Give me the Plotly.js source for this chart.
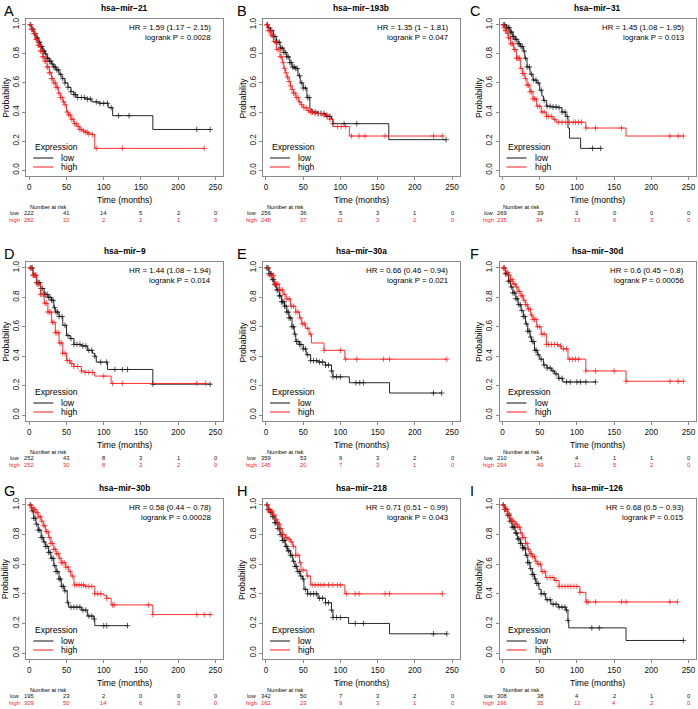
<!DOCTYPE html>
<html><head><meta charset="utf-8">
<script src="https://cdn.plot.ly/plotly-3.0.1.min.js"></script>
<style>html,body{margin:0;padding:0;background:#fff}#chart{width:698px;height:709px}</style>
</head><body><div id="chart"></div>
<script>
// ---------- DATA ----------
const panelLetters = ['A','B','C','D','E','F','G','H','I'];
const panelTitles = ['hsa−mir−21','hsa−mir−193b','hsa−mir−31','hsa−mir−9','hsa−mir−30a','hsa−mir−30d','hsa−mir−30b','hsa−mir−218','hsa−mir−126'];
const hrLabels = ['HR = 1.59 (1.17 − 2.15)','HR = 1.35 (1 − 1.81)','HR = 1.45 (1.08 − 1.95)','HR = 1.44 (1.08 − 1.94)','HR = 0.66 (0.46 − 0.94)','HR = 0.6 (0.45 − 0.8)','HR = 0.58 (0.44 − 0.78)','HR = 0.71 (0.51 − 0.99)','HR = 0.68 (0.5 − 0.93)'];
const pLabels = ['logrank P = 0.0028','logrank P = 0.047','logrank P = 0.013','logrank P = 0.014','logrank P = 0.021','logrank P = 0.00056','logrank P = 0.00028','logrank P = 0.043','logrank P = 0.015'];
const groupNames = ['low','high'];
const riskTimes = [0,50,100,150,200,250];
const xTickVals = [0,50,100,150,200,250];
const yTickVals = [0,0.2,0.4,0.6,0.8,1.0];

// Panel A
const A_low_t = [0,3,6,9,12,15,18,21,24,27,30,33,36,40,44,48,52,56,60,64,75,84,94,106,112,166,243];
const A_low_s = [1,0.97,0.94,0.91,0.88,0.85,0.82,0.80,0.77,0.75,0.73,0.71,0.69,0.66,0.63,0.60,0.57,0.54,0.52,0.50,0.49,0.47,0.46,0.43,0.375,0.28,0.28];
const A_low_c = [2,4,5,7,8,10,11,13,14,16,17,19,20,22,24,25,27,29,31,33,35,37,39,42,45,48,52,56,60,62,65,70,74,78,82,90,95,100,105,110,120,134,225,243];
const A_high_t = [0,3,6,9,12,15,18,21,24,27,30,33,36,39,42,45,48,50,53,56,60,64,68,72,76,80,84,88,235];
const A_high_s = [1,0.97,0.94,0.90,0.86,0.82,0.78,0.75,0.71,0.67,0.63,0.60,0.57,0.53,0.50,0.47,0.45,0.40,0.38,0.35,0.32,0.30,0.28,0.27,0.26,0.25,0.245,0.15,0.15];
const A_high_c = [1,3,4,6,7,9,10,12,13,15,16,18,19,21,22,24,25,27,28,30,31,33,35,36,38,40,42,44,46,48,51,53,55,57,59,61,63,66,68,70,73,76,78,80,85,90,125,235];
const A_risk_low = [222,41,14,5,2,0];
const A_risk_high = [282,32,2,1,1,0];

// Panel B
const B_low_t = [0,3,6,10,14,19,24,28,32,35,39,43,46,50,55,59,62,70,80,88,90,165,242];
const B_low_s = [1,0.98,0.96,0.92,0.88,0.84,0.81,0.78,0.74,0.71,0.70,0.65,0.60,0.565,0.50,0.42,0.40,0.39,0.37,0.355,0.32,0.21,0.21];
const B_low_c = [2,4,6,8,10,12,14,16,18,20,22,24,26,28,30,32,34,36,38,40,42,45,48,50,53,56,58,62,66,70,74,78,82,86,90,105,122,242];
const B_high_t = [0,3,6,10,14,19,22,24,26,28,31,33,35,37,40,44,47,50,55,59,66,75,85,90,112,237];
const B_high_s = [1,0.96,0.93,0.885,0.83,0.78,0.74,0.70,0.67,0.64,0.61,0.58,0.555,0.53,0.50,0.47,0.45,0.43,0.41,0.40,0.39,0.38,0.35,0.30,0.235,0.235];
const B_high_c = [1,3,5,7,9,11,13,15,17,19,21,23,25,27,29,31,33,35,37,39,41,43,45,48,51,54,57,60,63,66,70,74,78,82,86,96,101,107,115,125,133,160,225,237];
const B_risk_low = [256,36,5,3,1,0];
const B_risk_high = [248,37,11,3,2,0];

// Panel C
const C_low_t = [0,5,10,14,17,21,24,28,30,33,37,41,46,50,53,55,59,65,75,80,85,88,90,105,132];
const C_low_s = [1,0.98,0.95,0.92,0.90,0.87,0.85,0.82,0.77,0.71,0.66,0.62,0.60,0.55,0.51,0.48,0.44,0.435,0.43,0.40,0.37,0.29,0.22,0.15,0.15];
const C_low_c = [2,3,5,6,8,9,11,12,14,15,17,19,21,23,25,27,29,31,33,36,39,42,45,48,52,56,60,64,68,72,76,80,84,87,121,132];
const C_high_t = [0,2,4,6,8,11,15,19,24,27,30,33,37,41,46,52,59,68,72,112,166,243];
const C_high_s = [1,0.98,0.96,0.94,0.91,0.87,0.83,0.77,0.70,0.665,0.63,0.585,0.54,0.49,0.44,0.40,0.37,0.35,0.33,0.29,0.235,0.235];
const C_high_c = [1,2,4,5,7,8,10,11,13,14,16,17,19,20,22,23,25,27,29,31,33,35,37,39,41,43,45,47,50,53,56,59,62,66,70,75,80,85,90,95,98,102,106,112,125,160,225,236,243];
const C_risk_low = [269,39,3,0,0,0];
const C_risk_high = [235,34,13,6,3,0];

// Panel D
const D_low_t = [0,5,10,15,20,25,30,33,35,40,45,50,55,60,70,78,85,88,90,105,166,243];
const D_low_s = [1,0.95,0.90,0.86,0.82,0.80,0.78,0.73,0.70,0.67,0.61,0.54,0.52,0.48,0.47,0.44,0.42,0.40,0.36,0.31,0.21,0.21];
const D_low_c = [2,4,6,8,10,12,14,16,18,20,22,24,26,28,30,32,34,36,38,40,44,48,52,56,60,64,68,72,76,80,84,88,96,104,115,125,132,166,243];
const D_high_t = [0,5,10,15,20,25,30,35,40,45,50,55,60,70,75,88,110,237];
const D_high_s = [1,0.95,0.89,0.82,0.76,0.70,0.63,0.56,0.49,0.42,0.37,0.35,0.33,0.30,0.29,0.265,0.215,0.215];
const D_high_c = [1,3,5,7,9,11,13,15,17,19,21,23,25,27,29,31,33,35,37,39,41,43,45,48,51,54,57,60,65,70,75,80,85,100,112,125,225,237];
const D_risk_low = [252,43,8,3,1,0];
const D_risk_high = [252,30,8,3,2,0];

// Panel E
const E_low_t = [0,4,8,11,14,18,21,25,28,31,35,38,40,45,50,54,60,70,80,88,90,112,166,236];
const E_low_s = [1,0.96,0.92,0.886,0.85,0.81,0.77,0.74,0.70,0.66,0.60,0.55,0.50,0.48,0.45,0.41,0.37,0.36,0.34,0.30,0.26,0.22,0.15,0.15];
const E_low_c = [1,3,4,6,7,9,10,12,13,15,16,18,19,21,22,24,25,27,28,30,31,33,35,37,39,41,43,45,47,50,53,56,60,64,68,72,76,80,84,88,90,95,100,121,126,131,225,236];
const E_high_t = [0,5,11,18,23,27,33,40,45,48,53,58,61,78,106,243];
const E_high_s = [1,0.95,0.89,0.85,0.82,0.79,0.74,0.70,0.66,0.62,0.59,0.55,0.49,0.44,0.38,0.38];
const E_high_c = [2,5,8,10,12,14,16,18,20,22,25,28,31,34,37,40,43,46,49,52,56,60,78,100,107,122,158,166,243];
const E_risk_low = [359,53,9,3,2,0];
const E_risk_high = [145,20,7,3,1,0];

// Panel F
const F_low_t = [0,4,8,11,14,18,21,25,28,31,34,37,39,43,47,50,55,60,66,70,75,81,125];
const F_low_s = [1,0.96,0.91,0.87,0.83,0.79,0.75,0.71,0.67,0.62,0.57,0.53,0.50,0.44,0.41,0.38,0.34,0.32,0.30,0.28,0.25,0.225,0.225];
const F_low_c = [2,4,6,8,10,12,14,16,18,20,22,24,26,28,30,32,34,36,38,40,42,44,46,48,52,56,60,64,68,72,76,80,86,91,100,105,112,125];
const F_high_t = [0,4,8,11,14,18,21,25,28,31,34,38,41,46,52,59,75,79,88,112,166,243];
const F_high_s = [1,0.97,0.95,0.92,0.89,0.87,0.84,0.81,0.78,0.75,0.72,0.68,0.65,0.60,0.55,0.48,0.47,0.45,0.38,0.30,0.23,0.23];
const F_high_c = [1,3,5,7,9,11,13,15,17,19,21,23,25,27,29,31,33,35,37,39,41,43,45,47,50,53,56,59,62,66,70,74,78,82,86,90,94,98,102,112,125,150,166,225,236,243];
const F_risk_low = [210,24,4,1,1,0];
const F_risk_high = [294,49,12,5,2,0];

// Panel G
const G_low_t = [0,3,6,9,12,16,19,22,26,29,33,36,40,43,47,51,53,70,78,87,88,132];
const G_low_s = [1,0.96,0.91,0.87,0.83,0.78,0.75,0.72,0.68,0.64,0.59,0.55,0.50,0.45,0.42,0.34,0.31,0.29,0.25,0.23,0.185,0.185];
const G_low_c = [2,4,6,8,10,12,14,16,18,20,22,24,26,28,30,32,34,36,38,40,42,44,46,48,52,56,60,64,68,72,76,80,84,87,100,104,132];
const G_high_t = [0,3,6,9,12,16,19,22,26,29,33,36,40,43,49,53,56,60,75,88,100,104,110,166,243];
const G_high_s = [1,0.98,0.97,0.95,0.92,0.89,0.86,0.82,0.78,0.74,0.70,0.67,0.64,0.61,0.58,0.55,0.52,0.46,0.45,0.40,0.39,0.37,0.325,0.26,0.26];
const G_high_c = [1,3,5,7,9,11,13,15,17,19,21,23,25,27,29,31,33,35,37,39,41,43,45,47,49,52,55,58,61,64,67,70,73,76,80,84,88,92,96,104,112,114,160,166,225,235,243];
const G_risk_low = [195,23,2,0,0,0];
const G_risk_high = [309,50,14,6,3,0];

// Panel H
const H_low_t = [0,3,6,9,12,16,19,22,26,29,33,36,39,42,46,49,51,56,70,80,88,90,111,166,243];
const H_low_s = [1,0.97,0.95,0.92,0.88,0.84,0.80,0.76,0.72,0.69,0.66,0.62,0.585,0.55,0.52,0.50,0.43,0.40,0.37,0.34,0.29,0.24,0.20,0.13,0.13];
const H_low_c = [1,3,4,6,7,9,10,12,13,15,16,18,19,21,22,24,25,27,28,30,31,33,35,37,39,41,43,45,47,50,53,56,60,64,68,72,76,80,84,88,90,95,100,120,131,225,243];
const H_high_t = [0,4,9,13,16,19,22,26,29,33,36,40,45,47,55,60,106,237];
const H_high_s = [1,0.96,0.93,0.90,0.87,0.84,0.80,0.78,0.77,0.75,0.72,0.66,0.61,0.56,0.52,0.46,0.40,0.40];
const H_high_c = [2,4,6,8,10,12,14,16,18,20,22,24,26,28,31,34,37,40,43,46,50,56,62,66,70,74,78,84,90,96,100,108,120,125,160,166,237];
const H_risk_low = [342,50,7,3,2,0];
const H_risk_high = [162,23,9,3,1,0];

// Panel I
const I_low_t = [0,3,7,10,13,17,20,24,27,31,34,37,40,43,45,49,52,58,65,75,85,88,89,166,243];
const I_low_s = [1,0.97,0.93,0.89,0.85,0.81,0.77,0.74,0.71,0.66,0.61,0.57,0.53,0.50,0.47,0.43,0.40,0.36,0.33,0.31,0.29,0.22,0.17,0.085,0.085];
const I_low_c = [1,3,4,6,7,9,10,12,13,15,16,18,19,21,22,24,25,27,28,30,32,34,36,38,40,42,44,46,48,52,56,60,64,68,72,76,80,84,86,88,120,130,243];
const I_high_t = [0,3,7,10,13,17,20,24,27,31,34,37,40,44,47,52,58,70,76,104,112,235];
const I_high_s = [1,0.97,0.94,0.91,0.89,0.87,0.85,0.81,0.78,0.74,0.70,0.67,0.65,0.62,0.60,0.55,0.51,0.49,0.45,0.41,0.345,0.345];
const I_high_c = [1,3,5,7,9,11,13,15,17,19,21,23,25,27,29,31,33,35,37,39,41,43,45,48,51,54,57,60,64,68,72,76,80,84,88,92,96,100,104,113,115,125,160,166,225,235];
const I_risk_low = [308,38,4,2,1,0];
const I_risk_high = [196,35,12,4,2,0];

// ---------- BUILD ----------
const curves = [
  [[A_low_t,A_low_s,A_low_c,A_risk_low],[A_high_t,A_high_s,A_high_c,A_risk_high]],
  [[B_low_t,B_low_s,B_low_c,B_risk_low],[B_high_t,B_high_s,B_high_c,B_risk_high]],
  [[C_low_t,C_low_s,C_low_c,C_risk_low],[C_high_t,C_high_s,C_high_c,C_risk_high]],
  [[D_low_t,D_low_s,D_low_c,D_risk_low],[D_high_t,D_high_s,D_high_c,D_risk_high]],
  [[E_low_t,E_low_s,E_low_c,E_risk_low],[E_high_t,E_high_s,E_high_c,E_risk_high]],
  [[F_low_t,F_low_s,F_low_c,F_risk_low],[F_high_t,F_high_s,F_high_c,F_risk_high]],
  [[G_low_t,G_low_s,G_low_c,G_risk_low],[G_high_t,G_high_s,G_high_c,G_risk_high]],
  [[H_low_t,H_low_s,H_low_c,H_risk_low],[H_high_t,H_high_s,H_high_c,H_risk_high]],
  [[I_low_t,I_low_s,I_low_c,I_risk_low],[I_high_t,I_high_s,I_high_c,I_risk_high]]
];

// geometry (pixels)
const W = 698, H = 709;
const colLeft = [0, 233, 466];
const boxLeft = [26.3, 263, 499.5];
const boxW = 196.5;
const boxTop = [19, 262, 499];
const boxBot = [176, 421, 659];
const colors = ['#111111', '#ff1a1a'];
const FONT = 'Liberation Sans, Arial, Helvetica, sans-serif';

function px2x(p){ return p / W; }
function px2y(p){ return 1 - p / H; }
function stepAt(t, ts, ss){
  let v = ss[0];
  for (let i = 0; i < ts.length; i++){ if (ts[i] <= t) v = ss[i]; else break; }
  return v;
}

const traces = [];
const layout = {
  width: W, height: H, margin: {l:0, r:0, t:0, b:0},
  paper_bgcolor: '#fff', plot_bgcolor: '#fff',
  showlegend: false, font: {family: FONT, color: '#000'},
  annotations: [], shapes: []
};

for (let i = 0; i < 9; i++){
  const r = Math.floor(i / 3), c = i % 3;
  const sfx = i === 0 ? '' : String(i + 1);
  const xa = 'x' + sfx, ya = 'y' + sfx;
  const L = boxLeft[c], R = L + boxW, T = boxTop[r], B = boxBot[r];
  const axisCommon = {
    showgrid: false, zeroline: false, showline: true, mirror: true,
    linecolor: '#8a8a8a', linewidth: 1, ticks: 'outside', ticklen: 3,
    tickcolor: '#8a8a8a', tickwidth: 1,
    tickfont: {family: FONT, size: 8.2, color: '#111'}, fixedrange: true
  };
  layout['xaxis' + sfx] = Object.assign({}, axisCommon, {
    domain: [px2x(L), px2x(R)], range: [-4, 260], anchor: ya,
    tickmode: 'array', tickvals: xTickVals, ticktext: xTickVals.map(String)
  });
  layout['yaxis' + sfx] = Object.assign({}, axisCommon, {
    domain: [px2y(B), px2y(T)], range: [-0.04, 1.04], anchor: xa,
    tickmode: 'array', tickvals: yTickVals, ticktext: yTickVals.map(v => v.toFixed(1)),
    tickangle: -90
  });

  for (let g = 0; g < 2; g++){
    const [ts, ss, cs] = curves[i][g];
    traces.push({
      x: ts, y: ss, xaxis: xa, yaxis: ya, type: 'scatter', mode: 'lines',
      line: {color: colors[g], width: 0.9, shape: 'hv'}, hoverinfo: 'skip'
    });
    traces.push({
      x: cs, y: cs.map(t => stepAt(t, ts, ss)), xaxis: xa, yaxis: ya,
      type: 'scatter', mode: 'markers', hoverinfo: 'skip',
      marker: {symbol: 'cross-thin', size: 4, color: colors[g], line: {color: colors[g], width: 0.7}}
    });
  }

  const A = layout.annotations, S = layout.shapes;
  A.push({xref:'paper', yref:'paper', x: px2x(colLeft[c] + 2), y: px2y(T - 8), xanchor:'left', yanchor:'middle',
    text: panelLetters[i], showarrow:false, font:{family:FONT, size:14.5, color:'#000'}});
  A.push({xref:'paper', yref:'paper', x: px2x((L + R) / 2), y: px2y(T - 11), xanchor:'center', yanchor:'middle',
    text: '<b>' + panelTitles[i] + '</b>', showarrow:false, font:{family:FONT, size:8.3, color:'#000'}});
  A.push({xref:'paper', yref:'paper', x: px2x(R - 10), y: px2y(T + 8.7), xanchor:'right', yanchor:'middle',
    text: hrLabels[i], showarrow:false, font:{family:FONT, size:7.8, color:'#000'}});
  A.push({xref:'paper', yref:'paper', x: px2x(R - 10), y: px2y(T + 18.3), xanchor:'right', yanchor:'middle',
    text: pLabels[i], showarrow:false, font:{family:FONT, size:7.8, color:'#000'}});
  A.push({xref:'paper', yref:'paper', x: px2x((L + R) / 2), y: px2y(B + 24), xanchor:'center', yanchor:'middle',
    text: 'Time (months)', showarrow:false, font:{family:FONT, size:8.6, color:'#000'}});
  A.push({xref:'paper', yref:'paper', x: px2x(L - 21), y: px2y((T + B) / 2), xanchor:'center', yanchor:'middle',
    text: 'Probability', textangle: -90, showarrow:false, font:{family:FONT, size:8.6, color:'#000'}});
  A.push({xref:'paper', yref:'paper', x: px2x(L + 6.5), y: px2y(B - 29.3), xanchor:'left', yanchor:'middle',
    text: 'Expression', showarrow:false, font:{family:FONT, size:8.6, color:'#000'}});
  const legY = [B - 18, B - 9];
  for (let g = 0; g < 2; g++){
    S.push({type:'line', xref:'paper', yref:'paper', x0: px2x(L + 7), x1: px2x(L + 27),
      y0: px2y(legY[g]), y1: px2y(legY[g]), line:{color: colors[g], width: 1}});
    A.push({xref:'paper', yref:'paper', x: px2x(L + 33), y: px2y(legY[g]), xanchor:'left', yanchor:'middle',
      text: groupNames[g], showarrow:false, font:{family:FONT, size:8.6, color:'#000'}});
  }
  A.push({xref:'paper', yref:'paper', x: px2x(L + 22), y: px2y(B + 31), xanchor:'center', yanchor:'middle',
    text: 'Number at risk', showarrow:false, font:{family:FONT, size:5.6, color:'#000'}});
  const rowY = [B + 37.3, B + 44];
  for (let g = 0; g < 2; g++){
    A.push({xref:'paper', yref:'paper', x: px2x(L - 4), y: px2y(rowY[g]), xanchor:'right', yanchor:'middle',
      text: groupNames[g], showarrow:false, font:{family:FONT, size:5.8, color: colors[g]}});
    const risk = curves[i][g][3];
    for (let k = 0; k < riskTimes.length; k++){
      A.push({xref: xa, yref:'paper', x: riskTimes[k], y: px2y(rowY[g]), xanchor:'center', yanchor:'middle',
        text: String(risk[k]), showarrow:false, font:{family:FONT, size:5.8, color: colors[g]}});
    }
  }
}

Plotly.newPlot('chart', traces, layout, {staticPlot: true, displayModeBar: false});
</script></body></html>
